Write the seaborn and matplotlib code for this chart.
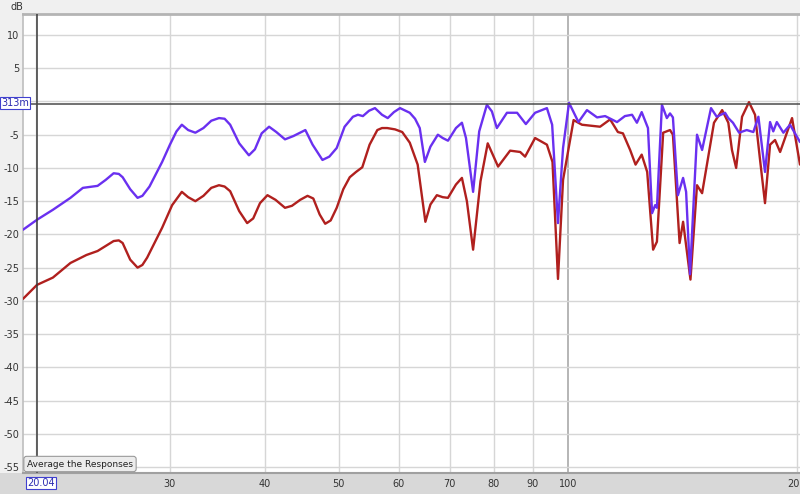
import matplotlib
matplotlib.use("Agg")
import matplotlib.pyplot as plt
import seaborn as sns
import pandas as pd
from matplotlib.patches import Rectangle

# ---- data (frequency in Hz, level in dB) ----
blue_freq = [19.23, 20.06, 21.05, 22.2, 23.05, 24.1, 24.7, 25.3, 25.7, 26.0, 26.6, 27.2, 27.6, 28.2,
             29.3, 30.0, 30.6, 31.1, 31.7, 32.4, 33.2, 34.0, 34.8, 35.4, 36.0, 37.0, 38.1, 38.8,
             39.6, 40.5, 41.4, 42.5, 43.6, 45.2, 46.2, 47.6, 48.6, 49.7, 50.9, 52.2, 53.0, 53.8,
             54.8, 55.8, 57.0, 58.0, 59.1, 60.2, 62.0, 63.0, 63.9, 64.9, 66.0, 67.5, 68.5, 69.6,
             71.3, 72.6, 73.5, 75.1, 76.5, 78.3, 79.5, 80.7, 83.2, 85.8, 88.1, 90.6, 93.9, 95.4,
             97.1, 98.6, 100.4, 103.3, 106.0, 109.3, 112.0, 116.1, 118.9, 121.5, 123.3, 125.1,
             127.5, 129.1, 130.3, 131.0, 133.0, 135.0, 136.3, 137.5, 139.6, 141.8, 143.1, 144.8,
             147.9, 150.2, 154.3, 157.0, 161.0, 162.6, 164.9, 168.0, 171.9, 175.4, 178.1, 181.7,
             184.5, 186.3, 188.3, 192.1, 196.0, 202.0]
blue_db = [-19.3, -17.8, -16.3, -14.5, -13.0, -12.7, -11.8, -10.8, -10.9, -11.4, -13.2, -14.5, -14.2, -12.8,
           -9.1, -6.5, -4.5, -3.5, -4.3, -4.7, -4.0, -2.9, -2.5, -2.6, -3.5, -6.3, -8.1, -7.2,
           -4.8, -3.8, -4.6, -5.7, -5.2, -4.3, -6.5, -8.8, -8.3, -7.0, -3.8, -2.3, -2.0, -2.2,
           -1.4, -1.0, -2.0, -2.5, -1.6, -1.0, -1.7, -2.6, -4.0, -9.1, -6.8, -5.0, -5.5, -5.9,
           -4.0, -3.2, -5.5, -13.6, -4.5, -0.5, -1.5, -4.0, -1.7, -1.7, -3.4, -1.7, -1.0, -3.5,
           -18.3, -7.0, -0.2, -3.1, -1.3, -2.4, -2.2, -3.1, -2.2, -2.0, -3.2, -1.6,
           -4.0, -16.8, -15.6, -16.0, -0.5, -2.5, -1.8, -2.4, -14.1, -11.5, -13.6, -26.0,
           -5.0, -7.3, -1.0, -2.3, -1.7, -2.5, -3.2, -4.7, -4.3, -4.6, -2.3, -10.6,
           -3.1, -4.5, -3.1, -4.7, -3.5, -6.1]

red_freq = [19.23, 20.06, 21.05, 22.2, 23.3, 24.1, 25.3, 25.7, 26.0, 26.6, 27.2, 27.6, 28.0, 29.3,
            30.2, 31.1, 31.7, 32.4, 33.2, 34.0, 34.8, 35.4, 36.0, 37.0, 37.9, 38.6, 39.4, 40.3,
            41.3, 42.5, 43.4, 44.5, 45.5, 46.3, 47.2, 48.0, 48.8, 49.7, 50.7, 51.7, 52.7, 53.7,
            54.9, 56.2, 57.0, 57.9, 59.3, 60.6, 62.0, 63.5, 65.0, 66.0, 67.3, 68.5, 69.6, 71.3,
            72.6, 73.7, 75.1, 76.8, 78.5, 81.0, 84.0, 86.6, 87.9, 90.6,
            93.9, 95.5, 97.1, 98.6, 101.8, 104.4, 110.3, 113.7, 116.4, 118.2, 120.8, 122.8, 125.1,
            127.2, 129.5, 131.0, 133.5, 136.3, 137.5, 140.3, 141.8, 145.0, 147.9, 150.2, 155.7,
            159.6, 162.6, 164.4, 166.5, 169.5, 173.1, 176.3, 179.0, 181.7, 184.5, 187.3, 190.2,
            197.2, 202.0]
red_db = [-29.7, -27.6, -26.5, -24.3, -23.1, -22.5, -21.0, -20.9, -21.3, -23.8, -25.0, -24.6, -23.5, -19.0,
          -15.6, -13.6, -14.4, -15.0, -14.2, -13.0, -12.6, -12.8, -13.5, -16.5, -18.3, -17.6, -15.3, -14.1,
          -14.8, -16.0, -15.7, -14.8, -14.2, -14.6, -17.0, -18.4, -17.9, -16.0, -13.2, -11.4, -10.6, -9.9,
          -6.5, -4.3, -4.0, -4.0, -4.2, -4.6, -6.2, -9.5, -18.1, -15.5, -14.1, -14.4, -14.5, -12.5,
          -11.5, -15.0, -22.3, -12.0, -6.3, -9.8, -7.4, -7.6, -8.3, -5.5,
          -6.5, -9.1, -26.7, -11.8, -2.8, -3.5, -3.8, -2.7, -4.6, -4.8, -7.3, -9.5, -8.0,
          -10.6, -22.3, -21.1, -4.7, -4.3, -5.0, -21.3, -18.1, -26.8, -12.6, -13.8, -3.2,
          -1.3, -3.2, -7.3, -10.0, -2.3, -0.1, -2.0, -8.8, -15.3, -6.5, -5.8, -7.6,
          -2.5, -9.5]

x_ticks = [30, 40, 50, 60, 70, 80, 90, 100, 200]
x_tick_labels = ["30", "40", "50", "60", "70", "80", "90", "100", "200"]
y_ticks = [10, 5, 0, -5, -10, -15, -20, -25, -30, -35, -40, -45, -50, -55]
y_tick_labels = ["10", "5", "", "-5", "-10", "-15", "-20", "-25", "-30", "-35", "-40", "-45", "-50", "-55"]
cursor_freq = 20.04
cursor_db = -0.313

sns.set_theme(style="white")
plt.rcParams["font.family"] = ["DejaVu Sans"]

W, H = 800, 494
fig = plt.figure(figsize=(W / 100, H / 100), dpi=100)
fig.patch.set_facecolor("#f0f0f0")

# grey band under the plot (x-axis area)
band = Rectangle((0, 0), 1, 21 / H, transform=fig.transFigure,
                 facecolor="#d8d8d8", edgecolor="none", zorder=-10)
fig.patches.append(band)

ax = fig.add_axes([23 / W, 1 - 473 / H, 1 - 23 / W, (473 - 14) / H])
ax.set_zorder(1)
ax.set_facecolor("white")
ax.set_xscale("log")
ax.set_xlim(19.23, 202)
ax.set_ylim(-55.9, 13.16)

# grid
for f in [20] + x_ticks:
    ax.axvline(f, color="#a9a9a9" if f == 100 else "#d6d6d6", lw=1.2 if f == 100 else 1, zorder=1)
for d in y_ticks:
    ax.axhline(d, color="#d6d6d6", lw=1, zorder=1)

df_red = pd.DataFrame({"freq": red_freq, "db": red_db})
df_blue = pd.DataFrame({"freq": blue_freq, "db": blue_db})
sns.lineplot(data=df_red, x="freq", y="db", ax=ax, color="#b0201e", lw=1.7,
             sort=False, estimator=None, zorder=3)
sns.lineplot(data=df_blue, x="freq", y="db", ax=ax, color="#6a30f0", lw=1.7,
             sort=False, estimator=None, zorder=4)

# cursors
ax.axvline(cursor_freq, color="#3a3a3a", lw=1.1, zorder=5)
ax.axhline(cursor_db, color="#4a4a4a", lw=1.1, zorder=5)

ax.set_xticks(x_ticks)
ax.set_xticklabels(x_tick_labels)
ax.xaxis.set_minor_locator(plt.NullLocator())
ax.set_yticks(y_ticks)
ax.set_yticklabels(y_tick_labels)
ax.tick_params(axis="both", length=0, labelsize=7, colors="#333333")
ax.tick_params(axis="y", pad=2.5)
ax.tick_params(axis="x", pad=4)
ax.set_xlabel("")
ax.set_ylabel("")

ax.spines["top"].set_color("#b4b4b4")
ax.spines["top"].set_linewidth(2)
ax.spines["left"].set_color("#c0c0c0")
ax.spines["bottom"].set_color("#a0a0a0")
ax.spines["bottom"].set_linewidth(1.5)
ax.spines["right"].set_visible(False)

# texts
fig.text(17 / W, 1 - 7 / H, "dB", ha="center", va="center", fontsize=7, color="#333333")
fig.text(1 / W, 1 - 103 / H, "313m", ha="left", va="center", fontsize=7, color="#2b2bb0", zorder=5,
         bbox=dict(boxstyle="square,pad=0.15", fc="white", ec="#4040d0", lw=0.8))
fig.text(27 / W, 1 - 483 / H, "20.04", ha="left", va="center", fontsize=7, color="#2b2bb0", zorder=5,
         bbox=dict(boxstyle="square,pad=0.15", fc="white", ec="#4040d0", lw=0.8))
fig.text(80 / W, 1 - 464 / H, "Average the Responses", ha="center", va="center", fontsize=6.5,
         color="#222222", zorder=5,
         bbox=dict(boxstyle="round,pad=0.35,rounding_size=0.3", fc="#ececec", ec="#9a9a9a", lw=0.8))

fig.savefig("out.png", dpi=100, facecolor=fig.get_facecolor())
